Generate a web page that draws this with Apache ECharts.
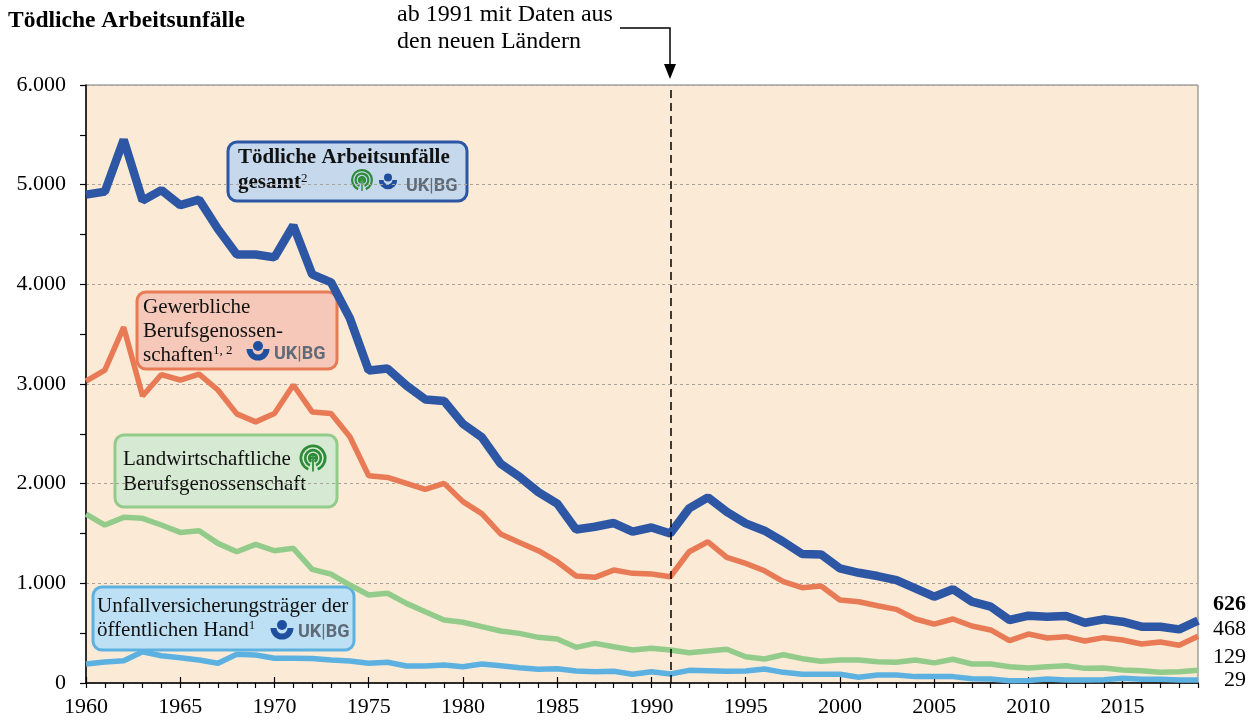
<!DOCTYPE html>
<html>
<head>
<meta charset="utf-8">
<script src="https://cdn.jsdelivr.net/npm/echarts@6/dist/echarts.min.js"></script>
<style>
  html, body { margin: 0; padding: 0; background: #fff; }
  #chart { width: 1256px; height: 724px; }
</style>
</head>
<body>
<div id="chart"></div>
<script>
// Jahre 1960 - 2019
const years = [];
for (let y = 1960; y <= 2019; y++) years.push(String(y));

// Tödliche Arbeitsunfälle gesamt
const gesamt = [4900, 4930, 5450, 4840, 4945, 4795, 4850, 4555, 4300, 4300,
  4270, 4590, 4100, 4020, 3660, 3135, 3155, 2985, 2845, 2830,
  2600, 2465, 2200, 2070, 1915, 1800, 1540, 1568, 1605, 1518,
  1560, 1500, 1752, 1862, 1718, 1602, 1528, 1417, 1294, 1290,
  1150, 1106, 1073, 1033, 950, 866, 940, 816, 766, 632,
  675, 665, 672, 605, 639, 615, 565, 565, 538, 626];

// Gewerbliche Berufsgenossenschaften
const gewerblich = [3030, 3140, 3570, 2880, 3095, 3040, 3100, 2940, 2700, 2620,
  2705, 2990, 2720, 2705, 2470, 2080, 2063, 2003, 1943, 2003,
  1820, 1700, 1495, 1410, 1327, 1217, 1073, 1060, 1133, 1100,
  1093, 1066, 1317, 1417, 1260, 1200, 1126, 1016, 956, 973,
  832, 815, 775, 739, 642, 590, 642, 572, 532, 425,
  491, 451, 465, 421, 455, 431, 391, 411, 378, 468];

// Landwirtschaftliche Berufsgenossenschaft
const landwirtschaft = [1695, 1585, 1662, 1652, 1585, 1511, 1528, 1401, 1317, 1391,
  1327, 1351, 1140, 1093, 983, 883, 900, 799, 715, 632,
  609, 565, 522, 498, 458, 441, 358, 398, 364, 331,
  348, 331, 304, 321, 338, 264, 241, 284, 244, 218,
  231, 231, 214, 209, 231, 202, 238, 191, 191, 164,
  150, 164, 174, 147, 150, 130, 124, 107, 114, 129];

// Unfallversicherungsträger der öffentlichen Hand
const oeffentlich = [191, 211, 224, 314, 274, 254, 231, 198, 288, 281,
  248, 248, 245, 231, 221, 198, 208, 171, 171, 181,
  164, 191, 174, 154, 137, 142, 120, 113, 117, 87,
  113, 90, 127, 124, 117, 120, 140, 107, 87, 87,
  87, 57, 80, 80, 64, 64, 64, 43, 40, 23,
  25, 40, 30, 30, 33, 48, 37, 37, 30, 29];

const yTickLabels = ['0', '1.000', '2.000', '3.000', '4.000', '5.000', '6.000'];
const wendeJahr = '1991';

const SERIF = '"Liberation Serif", "Times New Roman", serif';
const BLUE = '#2D57A5', ORANGE = '#E87A55', GREEN = '#93CB8B', LIGHT = '#5DB1E1';

// SVLFG-Logo (grüne Ringe)
function greenLogo(cx, cy, R) {
  const els = [];
  const gap = 0.4;
  [1, 0.68, 0.38].forEach(f => {
    els.push({
      type: 'arc',
      shape: { cx: cx, cy: cy, r: R * f - R * 0.1, startAngle: Math.PI / 2 + gap, endAngle: Math.PI / 2 - gap + Math.PI * 2 },
      style: { stroke: '#2E8B3A', fill: null, lineWidth: R * 0.2 }
    });
  });
  els.push({ type: 'line', shape: { x1: cx, y1: cy - R * 0.1, x2: cx, y2: cy + R }, style: { stroke: '#2E8B3A', lineWidth: R * 0.13 } });
  [[0, -0.18], [-0.14, 0.0], [0.14, 0.0]].forEach(p => {
    els.push({ type: 'circle', shape: { cx: cx + p[0] * R, cy: cy + p[1] * R, r: R * 0.11 }, style: { fill: '#2E8B3A' } });
  });
  return els;
}

// UK|BG-Logo
function ukbgLogo(cx, cy, s, tx, ty) {
  return [
    { type: 'arc', shape: { cx: cx, cy: cy, r: 8.5 * s, startAngle: 0, endAngle: Math.PI }, style: { stroke: '#1F4F9E', fill: null, lineWidth: 6 * s } },
    { type: 'circle', shape: { cx: cx, cy: cy - 3 * s, r: 5 * s }, style: { fill: '#1F4F9E' } },
    {
      type: 'text', x: tx, y: ty,
      style: {
        text: 'UK{b||}BG', fontFamily: 'Roboto', fontWeight: 'bold', fontSize: 18, fill: '#5F6B78',
        verticalAlign: 'middle', rich: { b: { fontWeight: 'normal', fontSize: 18, fill: '#5F6B78', fontFamily: 'Roboto' } }
      }
    }
  ];
}

function box(x, y, w, h, fill, stroke) {
  return { type: 'rect', shape: { x: x, y: y, width: w, height: h, r: 9 }, style: { fill: fill, stroke: stroke, lineWidth: 3 } };
}

function txt(x, y, text, opts) {
  return {
    type: 'text', x: x, y: y,
    style: Object.assign({
      text: text, fontFamily: SERIF, fontSize: 21, fill: '#111', verticalAlign: 'middle',
      rich: { s: { fontFamily: SERIF, fontSize: 13, verticalAlign: 'top', fill: '#111' } }
    }, opts || {})
  };
}

const graphics = [
  txt(8, 21, 'Tödliche Arbeitsunfälle', { fontWeight: 'bold', fontSize: 23.5, fill: '#000' }),
  txt(397, 15, 'ab 1991 mit Daten aus', { fontSize: 24, fill: '#000' }),
  txt(397, 42, 'den neuen Ländern', { fontSize: 24, fill: '#000' }),
  { type: 'polyline', shape: { points: [[620, 28], [670, 28], [670, 68]] }, style: { stroke: '#000', lineWidth: 1.5, fill: null } },
  { type: 'polygon', shape: { points: [[664, 64], [676, 64], [670, 79]] }, style: { fill: '#000' } },

  box(228, 142, 239, 59, '#C6D8EC', BLUE),
  txt(238, 158, 'Tödliche Arbeitsunfälle', { fontWeight: 'bold' }),
  txt(238, 183, 'gesamt{s|2}', { fontWeight: 'bold' }),

  box(137, 292, 200, 77, '#F5C8B9', ORANGE),
  txt(143, 307, 'Gewerbliche'),
  txt(143, 331, 'Berufsgenossen-'),
  txt(143, 355, 'schaften{s|1, 2}'),

  box(115, 435, 222, 72, '#D6EAD3', GREEN),
  txt(123, 459, 'Landwirtschaftliche'),
  txt(123, 484, 'Berufsgenossenschaft'),

  box(93, 587, 261, 63, '#BEE0F4', LIGHT),
  txt(97, 606, 'Unfallversicherungsträger der'),
  txt(97, 630, 'öffentlichen Hand{s|1}')
].concat(
  greenLogo(362, 180, 11),
  ukbgLogo(388, 180, 0.8, 406, 186),
  ukbgLogo(258, 349, 1, 274, 354),
  greenLogo(313, 458, 13.5),
  ukbgLogo(282, 628, 1, 298, 632)
);

function endLabel(dy, bold) {
  return {
    show: true, formatter: p => p.value, color: '#000', fontFamily: SERIF, fontSize: 22,
    fontWeight: bold ? 'bold' : 'normal', align: 'right', distance: 0, offset: [48, dy]
  };
}

const chart = echarts.init(document.getElementById('chart'), null, { renderer: 'canvas' });

const option = {
  animation: false,
  backgroundColor: '#fff',
  textStyle: { fontFamily: SERIF },
  grid: {
    left: 86, right: 58, top: 85, bottom: 41,
    show: true, backgroundColor: '#FBEAD6', borderColor: '#777', borderWidth: 1
  },
  xAxis: [{
    type: 'category',
    data: years,
    boundaryGap: false,
    axisLine: { lineStyle: { color: '#000', width: 1.5 } },
    axisTick: { interval: 0, length: 5, lineStyle: { color: '#000', width: 1.2 } },
    axisLabel: { interval: 4, color: '#000', fontSize: 22, fontFamily: SERIF, margin: 13 },
    splitLine: { show: false }
  }, {
    type: 'category',
    data: years,
    boundaryGap: false,
    position: 'bottom',
    axisLine: { show: false },
    axisTick: { interval: 4, inside: true, length: 6, lineStyle: { color: '#000', width: 1.2 } },
    axisLabel: { show: false },
    splitLine: { show: false }
  }],
  yAxis: {
    type: 'value',
    min: 0, max: 6000, interval: 1000,
    axisLine: { show: true, lineStyle: { color: '#000', width: 1.5 } },
    axisTick: { show: true, length: 6, lineStyle: { color: '#000', width: 1.2 } },
    minorTick: { show: true, splitNumber: 2, length: 6, lineStyle: { color: '#000', width: 1.2 } },
    axisLabel: {
      color: '#000', fontSize: 22, fontFamily: SERIF, margin: 20,
      formatter: v => yTickLabels[Math.round(v / 1000)]
    },
    splitLine: { lineStyle: { color: '#A9A39C', type: [3, 3], width: 1 } }
  },
  series: [{
    name: 'Unfallversicherungsträger der öffentlichen Hand',
    type: 'line', data: oeffentlich, symbol: 'none',
    lineStyle: { color: LIGHT, width: 5.5 },
    endLabel: endLabel(0, false)
  }, {
    name: 'Landwirtschaftliche Berufsgenossenschaft',
    type: 'line', data: landwirtschaft, symbol: 'none',
    lineStyle: { color: GREEN, width: 5.5 },
    endLabel: endLabel(-13, false)
  }, {
    name: 'Gewerbliche Berufsgenossenschaften',
    type: 'line', data: gewerblich, symbol: 'none',
    lineStyle: { color: ORANGE, width: 5.5 },
    endLabel: endLabel(-7, false)
  }, {
    name: 'Tödliche Arbeitsunfälle gesamt',
    type: 'line', data: gesamt, symbol: 'none',
    lineStyle: { color: BLUE, width: 8.5 },
    endLabel: endLabel(-16, true),
    markLine: {
      silent: true, symbol: 'none', label: { show: false },
      lineStyle: { color: '#000', type: [8, 5], width: 1.5 },
      data: [{ xAxis: wendeJahr }]
    }
  }],
  graphic: graphics
};

chart.setOption(option);
</script>
</body>
</html>
